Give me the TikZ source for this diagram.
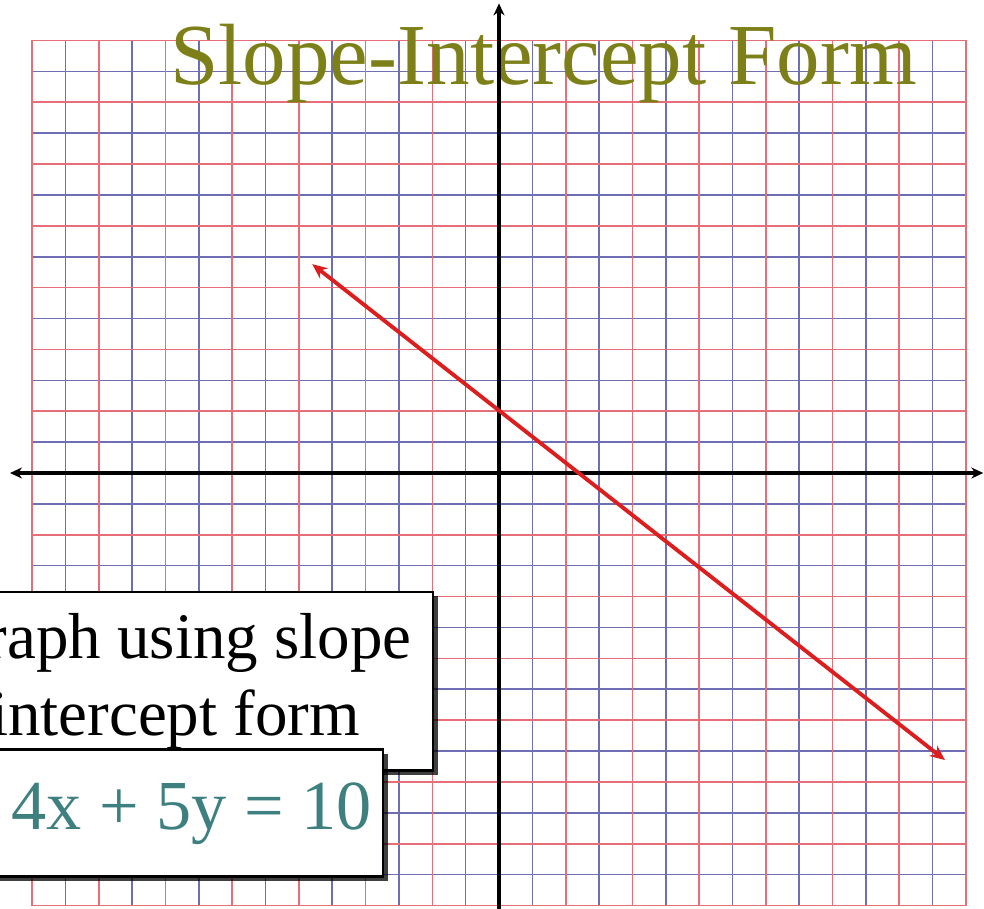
\documentclass[tikz,border=0pt]{standalone}
\usepackage{fontspec}
\setmainfont{Liberation Serif}
\usetikzlibrary{arrows.meta, shadows}

\definecolor{gridred}{RGB}{230,110,120}
\definecolor{gridblue}{RGB}{110,110,180}
\definecolor{titleolive}{RGB}{125,128,24}
\definecolor{eqteal}{RGB}{62,128,128}
\definecolor{linered}{RGB}{220,30,30}

\tikzset{
  textbox/.style={draw=black, line width=1.6pt, fill=white, align=center, inner sep=0pt,
    drop shadow={shadow xshift=0.09cm, shadow yshift=-0.09cm, fill=black, opacity=0.75}},
  axis/.style={line width=2pt},
  axistip/.tip={Stealth[length=2.4mm, width=2.2mm]},
  linetip/.tip={Stealth[length=3mm, width=2.6mm]}
}

\begin{document}
\begin{tikzpicture}[x=0.6672cm, y=0.618cm]
    \useasboundingbox (-14.96,-14.11) rectangle (14.54,15.31);
    \clip (-14.96,-14.11) rectangle (14.54,15.31);

    % Grid paper
    \foreach \i in {-13,-11,...,13} {
        \draw[gridblue, line width=0.9pt] (\i,-14) -- (\i,14);
        \draw[gridblue, line width=0.9pt] (-14,\i) -- (14,\i);
    }
    \foreach \i in {-14,-12,...,14} {
        \draw[gridred, line width=0.9pt] (\i,-14) -- (\i,14);
        \draw[gridred, line width=0.9pt] (-14,\i) -- (14,\i);
    }

    % Title
    \node[titleolive, anchor=base west, inner sep=0pt, font=\fontsize{49.5}{50}\selectfont] (title) at (-9.86,12.56) {Slope-Intercept Form};

    % Axes
    \coordinate (xl) at (-14.66,0);
    \coordinate (xr) at (14.52,0);
    \coordinate (yt) at (0,15.2);
    \coordinate (yb) at (0,-14.4);
    \draw[axis, axistip-axistip] (xl) -- (xr);
    \draw[axis, -axistip] (yb) -- (yt);

    % Line
    \coordinate (lineA) at (-5.6,6.76);
    \coordinate (lineB) at (13.37,-9.29);
    \draw[linered, line width=2.2pt, linetip-linetip] (lineA) -- (lineB);

    % Boxes
    \node[textbox, minimum width=10.32cm, minimum height=3.58cm, font=\fontsize{37}{43.5}\selectfont] (howbox) at (-9.71,-6.745) {Graph using slope\\intercept form};
    \node[textbox, text=eqteal, text width=8cm, align=flush right, inner xsep=0.22cm, minimum height=2.54cm, font=\fontsize{40}{42}\selectfont] (eqbox) at (-9.80,-11.015) {4x + 5y = 10};
\end{tikzpicture}
\end{document}
